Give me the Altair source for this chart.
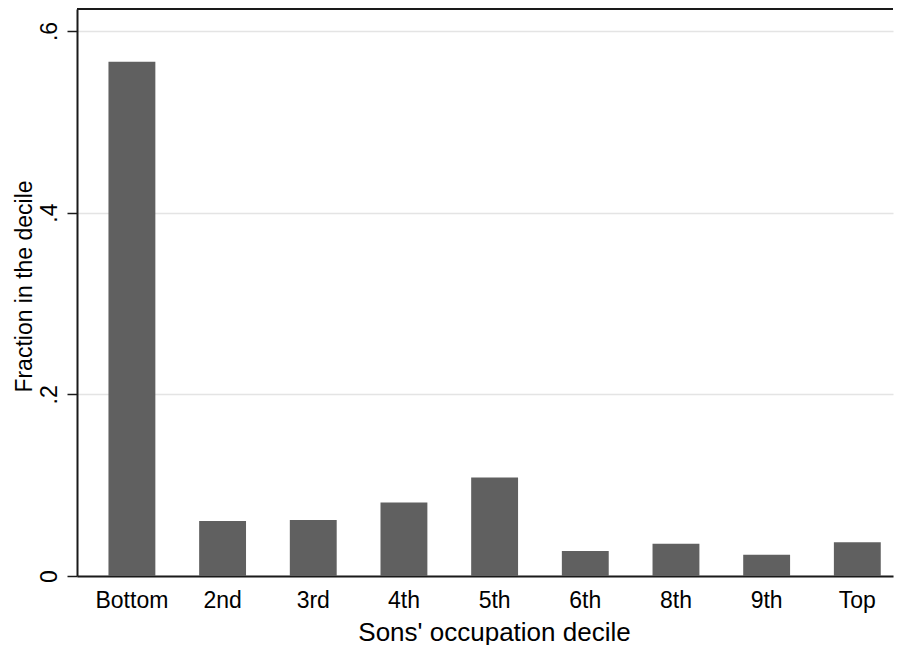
import altair as alt
import pandas as pd

categories = ["Bottom", "2nd", "3rd", "4th", "5th", "6th", "8th", "9th", "Top"]
fractions = [0.566, 0.0606, 0.0617, 0.0808, 0.1084, 0.0276, 0.0356, 0.0235, 0.0371]
y_ticks = [0, 0.2, 0.4, 0.6]

df = pd.DataFrame({"decile": categories, "fraction": fractions})
frame_df = pd.DataFrame({"edge": ["top"]})

FONT = "Liberation Sans, Arial, Helvetica, sans-serif"
W, H = 816, 567

bars = alt.Chart(df).mark_bar(color="#606060").encode(
    x=alt.X(
        "decile:N",
        sort=categories,
        scale=alt.Scale(paddingInner=0.483, paddingOuter=0.241, align=0.72),
        axis=alt.Axis(
            title="Sons' occupation decile",
            labelAngle=0,
            labelFontSize=23,
            labelBaseline="alphabetic",
            labelPadding=31,
            ticks=False,
            tickSize=0,
            domainColor="#1a1a1a",
            domainWidth=2,
            titleFontSize=26,
            titleFontWeight="normal",
            titleBaseline="alphabetic",
            titleX=417,
            titleY=64,
            titleColor="#000000",
            labelColor="#000000",
        ),
    ),
    y=alt.Y(
        "fraction:Q",
        scale=alt.Scale(domain=[0, 0.6242], nice=False, zero=True),
        axis=alt.Axis(
            title="Fraction in the decile",
            values=y_ticks,
            labelExpr="datum.value == 0 ? '0' : replace(format(datum.value, '.1f'), '0.', '.')",
            labelAngle=270,
            labelAlign="center",
            labelBaseline="alphabetic",
            labelFontSize=23,
            labelPadding=11,
            tickSize=10,
            tickColor="#1a1a1a",
            tickWidth=1.5,
            domainColor="#1a1a1a",
            domainWidth=2,
            grid=True,
            gridColor="#e4e4e4",
            gridWidth=1.5,
            titleAngle=270,
            titleFontSize=23,
            titleFontWeight="normal",
            titleBaseline="alphabetic",
            titleX=-46,
            titleY=277,
            titleColor="#000000",
            labelColor="#000000",
        ),
    ),
)

top_line = alt.Chart(frame_df).mark_rule(color="#1a1a1a", strokeWidth=2).encode(
    x=alt.value(0), x2=alt.value(W), y=alt.value(0), y2=alt.value(0)
)

chart = (
    alt.layer(bars, top_line)
    .properties(width=W, height=H, padding={"left": 5, "top": 0, "right": 0, "bottom": 0})
    .configure(font=FONT, background="white")
    .configure_view(strokeWidth=0, stroke="transparent")
    .configure_axis(labelFont=FONT, titleFont=FONT)
)

chart.save("out.html", embed_options={"renderer": "svg", "actions": False})
